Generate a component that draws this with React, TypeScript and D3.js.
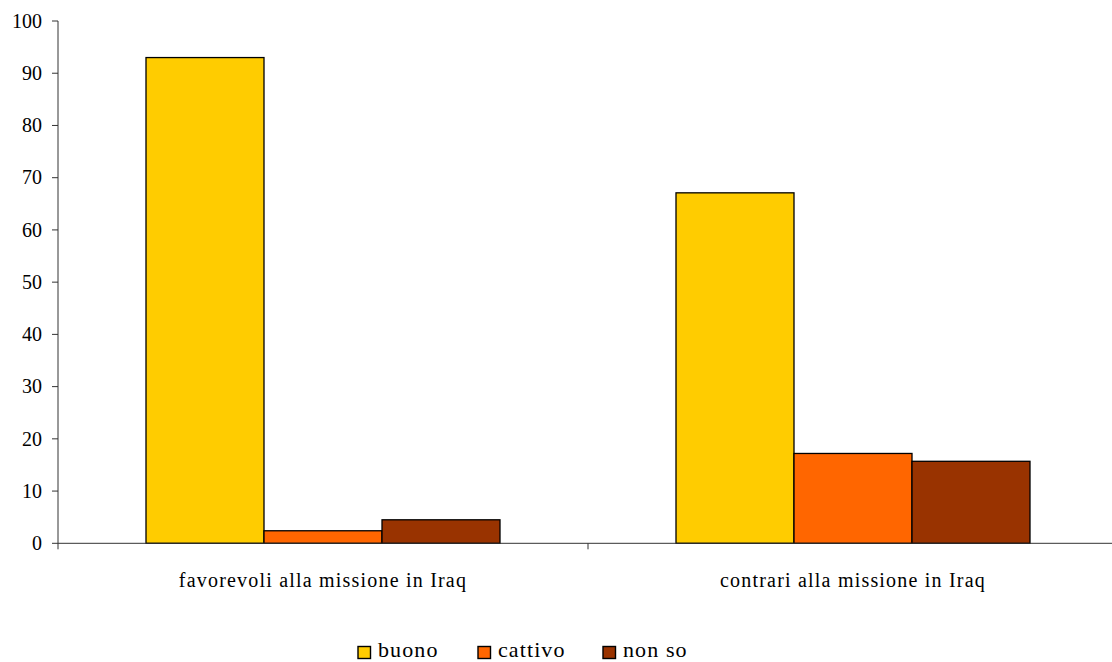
import React from "react";
import * as d3 from "d3";

const categories = ["favorevoli alla missione in Iraq", "contrari alla missione in Iraq"];
const seriesNames = ["buono", "cattivo", "non so"];
const buono = [93, 67.1];
const cattivo = [2.4, 17.2];
const nonSo = [4.5, 15.7];
const yTicks = [0, 10, 20, 30, 40, 50, 60, 70, 80, 90, 100];

const colors = ["#FFCC00", "#FF6600", "#993300"];
const W = 1112;
const H = 662;
const font = "'Liberation Serif', 'Times New Roman', Times, 'DejaVu Serif', serif";

export default function App() {
  const series = [buono, cattivo, nonSo];
  const left = 58;
  const right = 1118;
  const top = 21;
  const bottom = 543.3;

  const x0 = d3.scaleBand<string>().domain(categories).range([left, right]).paddingInner(0).paddingOuter(0);
  const inner = 354 / 530;
  const x1 = d3
    .scaleBand<string>()
    .domain(seriesNames)
    .range([0, x0.bandwidth() * inner]);
  const groupOffset = (x0.bandwidth() - x0.bandwidth() * inner) / 2;
  const y = d3.scaleLinear().domain([0, 100]).range([bottom, top]);

  return (
    <svg
      width={W}
      height={H}
      style={{ position: "absolute", left: 0, top: 0, background: "#fff", fontFamily: font }}
    >
      {/* y axis */}
      <line x1={left} x2={left} y1={top} y2={bottom} stroke="#333" strokeWidth={1} />
      {yTicks.map((t) => (
        <g key={t}>
          <line x1={left - 6} x2={left} y1={y(t)} y2={y(t)} stroke="#333" />
          <text x={42} y={y(t)} dy="0.34em" textAnchor="end" fontSize={20} fill="#000">
            {t}
          </text>
        </g>
      ))}

      {/* bars */}
      {categories.map((c, ci) => (
        <g key={c}>
          {series.map((s, si) => {
            const bx = (x0(c) as number) + groupOffset + (x1(seriesNames[si]) as number);
            return (
              <rect
                key={si}
                x={bx}
                y={y(s[ci])}
                width={x1.bandwidth()}
                height={bottom - y(s[ci])}
                fill={colors[si]}
                stroke="#000"
                strokeWidth={1.3}
              />
            );
          })}
        </g>
      ))}

      {/* x axis */}
      <line x1={left} x2={W} y1={bottom} y2={bottom} stroke="#333" />
      {categories.map((c) => (
        <line
          key={c}
          x1={x0(c) as number}
          x2={x0(c) as number}
          y1={bottom}
          y2={bottom + 6}
          stroke="#333"
        />
      ))}
      {categories.map((c) => (
        <text
          key={c}
          x={(x0(c) as number) + x0.bandwidth() / 2}
          y={587}
          textAnchor="middle"
          fontSize={20}
          letterSpacing={1.2}
          fill="#000"
        >
          {c}
        </text>
      ))}

      {/* legend */}
      {seriesNames.map((n, i) => {
        const lx = [358, 478, 603][i];
        return (
          <g key={n}>
            <rect x={lx} y={646.5} width={12.5} height={12} fill={colors[i]} stroke="#000" strokeWidth={1.4} />
            <text x={lx + 20} y={657} fontSize={22} letterSpacing={1.1} fill="#000">
              {n}
            </text>
          </g>
        );
      })}
    </svg>
  );
}
